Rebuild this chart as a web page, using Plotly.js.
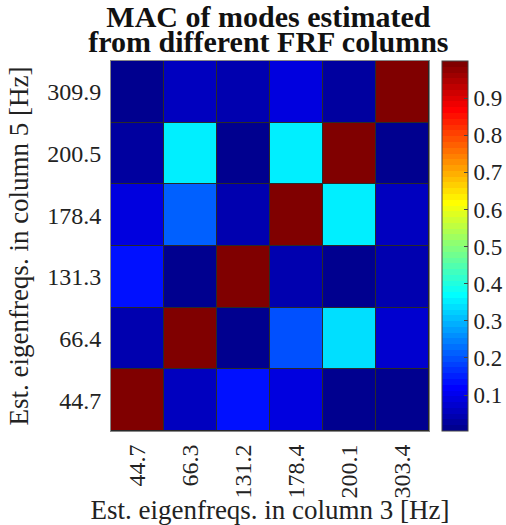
<!DOCTYPE html>
<html>
<head>
<meta charset="utf-8">
<script src="https://cdn.plot.ly/plotly-3.0.1.min.js"></script>
<style>html,body{margin:0;padding:0;background:#fff;}#plot{width:506px;height:525px;}</style>
</head>
<body>
<div id="plot"></div>
<script>
// Column-3 estimated eigenfrequencies (x axis categories)
const xLabels = ["44.7", "66.3", "131.2", "178.4", "200.1", "303.4"];
// Column-5 estimated eigenfrequencies (y axis categories, bottom to top)
const yLabels = ["44.7", "66.4", "131.3", "178.4", "200.5", "309.9"];
// MAC values, one row per y label (bottom to top)
const mac_44_7  = [1.000, 0.050, 0.135, 0.088, 0.012, 0.008];
const mac_66_4  = [0.045, 1.000, 0.012, 0.195, 0.339, 0.073];
const mac_131_3 = [0.135, 0.010, 1.000, 0.042, 0.012, 0.040];
const mac_178_4 = [0.090, 0.215, 0.042, 1.000, 0.354, 0.058];
const mac_200_5 = [0.022, 0.354, 0.010, 0.354, 1.000, 0.015];
const mac_309_9 = [0.010, 0.058, 0.042, 0.089, 0.026, 1.000];
const zRows = [mac_44_7, mac_66_4, mac_131_3, mac_178_4, mac_200_5, mac_309_9];
const cbTicks = [0.1, 0.2, 0.3, 0.4, 0.5, 0.6, 0.7, 0.8, 0.9];
const titleLines = ["MAC of modes estimated", "from different FRF columns"];

// MATLAB jet(64) as a stepped colorscale
function jet(m) {
  const n = Math.ceil(m / 4);
  const u = [];
  for (let i = 1; i <= n; i++) u.push(i / n);
  for (let i = 1; i <= n - 1; i++) u.push(1);
  for (let i = n; i >= 1; i--) u.push(i / n);
  const J = [];
  for (let i = 0; i < m; i++) J.push([0, 0, 0]);
  const base = Math.ceil(n / 2) - ((m % 4) === 1 ? 1 : 0);
  const g = [], r = [], b = [];
  for (let i = 1; i <= u.length; i++) {
    const gi = base + i;
    if (gi <= m) g.push(gi);
    if (gi + n <= m) r.push(gi + n);
    if (gi - n >= 1) b.push(gi - n);
  }
  r.forEach((idx, k) => { J[idx - 1][0] = u[k]; });
  g.forEach((idx, k) => { J[idx - 1][1] = u[k]; });
  b.forEach((idx, k) => { J[idx - 1][2] = u[u.length - b.length + k]; });
  return J;
}
const J = jet(64);
const colorscale = [];
J.forEach((c, i) => {
  const col = 'rgb(' + c.map(v => Math.round(v * 255)).join(',') + ')';
  colorscale.push([i / 64, col]);
  colorscale.push([(i + 1) / 64, col]);
});

const font = "'Liberation Serif', 'DejaVu Serif', serif";
const tickSize = 24;

const trace = {
  type: 'heatmap',
  x: xLabels,
  y: yLabels,
  z: zRows,
  zmin: 0.003,
  zmax: 1.0,
  colorscale: colorscale,
  xgap: 1,
  ygap: 1,
  hoverongaps: false,
  colorbar: {
    x: 1.041, xanchor: 'left', xref: 'paper',
    y: 0.5, yanchor: 'middle', len: 1, lenmode: 'fraction',
    thickness: 26, thicknessmode: 'pixels',
    outlinecolor: '#444', outlinewidth: 1,
    tickvals: cbTicks,
    ticktext: cbTicks.map(v => v.toFixed(1)),
    ticks: 'inside', ticklen: 4, tickcolor: '#444',
    tickfont: {family: font, size: 23, color: '#222'},
    xpad: 0, ypad: 0
  }
};

const layout = {
  width: 506, height: 525,
  margin: {l: 111, r: 77, t: 61, b: 94, pad: 0, autoexpand: false},
  paper_bgcolor: '#ffffff',
  plot_bgcolor: '#2a2a2a',
  font: {family: font, color: '#222'},
  title: {
    text: '<b>' + titleLines.map(t => '<span style="font-size:30px">' + t + '</span>').join('<br>') + '</b>',
    font: {family: font, size: 19.5, color: '#111'},
    x: 0.495, xref: 'paper', xanchor: 'center',
    y: 1 - 27 / 525, yref: 'container', yanchor: 'middle'
  },
  xaxis: {
    type: 'category',
    categoryorder: 'array', categoryarray: xLabels,
    tickangle: -90,
    ticklabelstandoff: 3,
    tickfont: {family: font, size: tickSize, color: '#222'},
    ticks: '', showgrid: false, zeroline: false,
    showline: true, mirror: true, linecolor: '#888', linewidth: 1,
    title: {text: 'Est. eigenfreqs. in column 3 [Hz]', font: {family: font, size: 27, color: '#222'}, standoff: 2}
  },
  yaxis: {
    type: 'category',
    categoryorder: 'array', categoryarray: yLabels,
    ticklabelstandoff: 4,
    tickfont: {family: font, size: tickSize, color: '#222'},
    ticks: '', showgrid: false, zeroline: false,
    showline: true, mirror: true, linecolor: '#888', linewidth: 1,
    title: {text: 'Est. eigenfreqs. in column 5 [Hz]', font: {family: font, size: 27, color: '#222'}, standoff: 10}
  }
};

Plotly.newPlot('plot', [trace], layout, {displayModeBar: false, staticPlot: true});
</script>
</body>
</html>
